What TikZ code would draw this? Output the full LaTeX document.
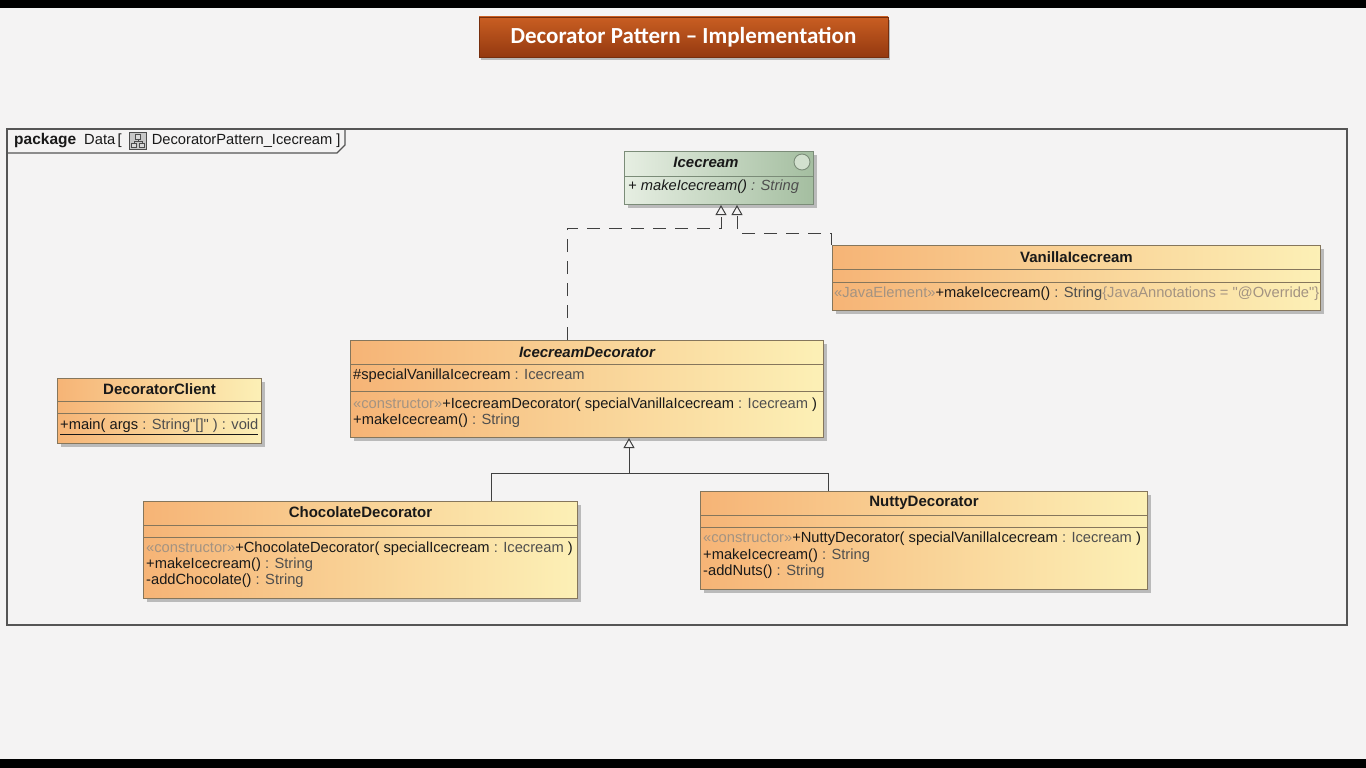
\documentclass[tikz,border=0pt]{standalone}
\usepackage{fontspec}
\setmainfont{Liberation Sans}[Ligatures=TeXOff]
\newfontfamily\titlefont{Carlito}
\usetikzlibrary{positioning,shadows,arrows.meta}

\definecolor{slidebg}{HTML}{F4F3F3}
\definecolor{boxL}{HTML}{F6B476}
\definecolor{boxR}{HTML}{FCF0B6}
\definecolor{boxline}{HTML}{85765C}
\definecolor{ifcL}{HTML}{E6EEE2}
\definecolor{ifcR}{HTML}{A4BEA0}
\definecolor{ifcline}{HTML}{7B8C78}
\definecolor{stereo}{HTML}{A39382}
\definecolor{typegray}{HTML}{4E4E4E}
\definecolor{titleT}{HTML}{C95E22}
\definecolor{titleB}{HTML}{943910}
\definecolor{frameline}{HTML}{555555}

\newcommand{\stereotxt}[1]{\textcolor{stereo}{«#1»}}
\newcommand{\typetxt}[1]{\textcolor{typegray}{#1}}
\newcommand{\umlsize}{\fontsize{14.7}{17}\selectfont}

\tikzset{
  classbox/.style={draw=boxline, line width=1pt, left color=boxL, right color=boxR,
    anchor=north west, inner sep=0pt,
    drop shadow={shadow xshift=3pt, shadow yshift=-3pt, fill=black!45, opacity=0.55}},
  sepline/.style={draw=boxline, line width=0.9pt},
  hdr/.style={font=\fontsize{15}{17}\selectfont\bfseries, text=black!90, inner sep=0pt},
  member/.style={font=\umlsize, text=black!90, anchor=west, inner sep=0pt,
    text height=10.7pt, text depth=3pt},
  realize/.style={draw=black!75, line width=1pt, dash pattern=on 13pt off 9pt,
    -{Triangle[open, length=10pt, width=11pt]}},
  inherit/.style={draw=black!75, line width=1pt, -{Triangle[open, length=10pt, width=11pt]}},
}

\begin{document}
\begin{tikzpicture}[x=1pt,y=-1pt]
  \useasboundingbox (0,0) rectangle (1366,768);
  \fill[slidebg] (0,0) rectangle (1366,768);
  \fill[black] (0,0) rectangle (1366,8);
  \fill[black] (0,759) rectangle (1366,768);

  % title
  \node[top color=titleT, bottom color=titleB, draw=titleB!80!black, minimum width=409pt, minimum height=40pt,
    drop shadow={shadow xshift=2pt, shadow yshift=-3pt, fill=black!50, opacity=0.5},
    text=white, font=\titlefont\fontsize{23}{27}\selectfont\bfseries] (title) at (683.5,37)
    {Decorator Pattern – Implementation};

  % package frame
  \draw[frameline, line width=1.2pt] (7,129) rectangle (1347,625);
  \draw[frameline, line width=1.2pt] (7,153) -- (337,153) -- (345,145) -- (345,129);
  \node[member] (pkgA) at (14,141) {{\fontsize{15.5}{17}\selectfont\bfseries package}\hspace{8pt}Data\,[};
  \node[draw=black!70, fill=black!22, line width=0.6pt, minimum size=17pt, inner sep=0pt, right=7pt of pkgA] (pkgicon) {};
  \draw[black!70, line width=0.6pt, fill=white!85!black]
    ([xshift=-2.5pt,yshift=6.5pt]pkgicon.center) rectangle ([xshift=2.5pt,yshift=2pt]pkgicon.center)
    ([xshift=-6.5pt,yshift=-2pt]pkgicon.center) rectangle ([xshift=-1.5pt,yshift=-6.5pt]pkgicon.center)
    ([xshift=1.5pt,yshift=-2pt]pkgicon.center) rectangle ([xshift=6.5pt,yshift=-6.5pt]pkgicon.center);
  \draw[black!70, line width=0.6pt] ([yshift=2pt]pkgicon.center) -- ([yshift=0pt]pkgicon.center)
    ([xshift=-4pt,yshift=-2pt]pkgicon.center) |- ([xshift=4pt,yshift=0pt]pkgicon.center) -- ([xshift=4pt,yshift=-2pt]pkgicon.center);
  \node[member, right=5pt of pkgicon] (pkgB) {DecoratorPattern\_Icecream ]};

  % Icecream interface
  \node[classbox, draw=ifcline, left color=ifcL, right color=ifcR, minimum width=189pt, minimum height=53pt] (ice) at (624,151) {};
  \node[hdr, font=\fontsize{15}{17}\selectfont\bfseries\itshape] (iceT) at ([xshift=-13pt,yshift=-11pt]ice.north) {Icecream};
  \draw[ifcline, fill=ifcL!70!ifcR, line width=0.9pt] ([xshift=-12pt,yshift=-11pt]ice.north east) circle (8pt);
  \draw[draw=ifcline, line width=0.9pt] ([yshift=-25pt]ice.north west) -- ([yshift=-25pt]ice.north east);
  \node[member, font=\umlsize\itshape] (iceOp) at ([xshift=4pt,yshift=-36pt]ice.north west)
    {+ makeIcecream() \typetxt{: String}};

  % VanillaIcecream
  \node[classbox, minimum width=488pt, minimum height=65pt] (van) at (832,245) {};
  \node[hdr] (vanT) at ([yshift=-12pt]van.north) {VanillaIcecream};
  \draw[sepline] ([yshift=-24pt]van.north west) -- ([yshift=-24pt]van.north east);
  \draw[sepline] ([yshift=-37pt]van.north west) -- ([yshift=-37pt]van.north east);
  \node[member] (vanOp) at ([xshift=2pt,yshift=-49pt]van.north west)
    {\stereotxt{JavaElement}+makeIcecream() \typetxt{: String}\textcolor{stereo}{\{JavaAnnotations = "@Override"\}}};

  % IcecreamDecorator
  \node[classbox, minimum width=473pt, minimum height=97pt] (dec) at (350,340) {};
  \node[hdr, font=\fontsize{15}{17}\selectfont\bfseries\itshape] (decT) at ([yshift=-12pt]dec.north) {IcecreamDecorator};
  \draw[sepline] ([yshift=-24pt]dec.north west) -- ([yshift=-24pt]dec.north east);
  \node[member] (decA) at ([xshift=3pt,yshift=-36pt]dec.north west) {\#specialVanillaIcecream \typetxt{: Icecream}};
  \draw[sepline] ([yshift=-51pt]dec.north west) -- ([yshift=-51pt]dec.north east);
  \node[member] (decOpA) at ([xshift=3pt,yshift=-65pt]dec.north west)
    {\stereotxt{constructor}+IcecreamDecorator( specialVanillaIcecream \typetxt{: Icecream} )};
  \node[member] (decOpB) at ([xshift=3pt,yshift=-81pt]dec.north west) {+makeIcecream() \typetxt{: String}};

  % DecoratorClient
  \node[classbox, minimum width=204pt, minimum height=65pt] (cli) at (57,378) {};
  \node[hdr] (cliT) at ([yshift=-11pt]cli.north) {DecoratorClient};
  \draw[sepline] ([yshift=-23pt]cli.north west) -- ([yshift=-23pt]cli.north east);
  \draw[sepline] ([yshift=-35pt]cli.north west) -- ([yshift=-35pt]cli.north east);
  \node[member] (cliOp) at ([xshift=3pt,yshift=-48pt]cli.north west)
    {\underline{+main( args \typetxt{: String"[]" ) : void}}};

  % ChocolateDecorator
  \node[classbox, minimum width=434pt, minimum height=97pt] (cho) at (143,501) {};
  \node[hdr] (choT) at ([yshift=-11pt]cho.north) {ChocolateDecorator};
  \draw[sepline] ([yshift=-24pt]cho.north west) -- ([yshift=-24pt]cho.north east);
  \draw[sepline] ([yshift=-36pt]cho.north west) -- ([yshift=-36pt]cho.north east);
  \node[member] (choOpA) at ([xshift=3pt,yshift=-48pt]cho.north west)
    {\stereotxt{constructor}+ChocolateDecorator( specialIcecream \typetxt{: Icecream} )};
  \node[member] (choOpB) at ([xshift=3pt,yshift=-64pt]cho.north west) {+makeIcecream() \typetxt{: String}};
  \node[member] (choOpC) at ([xshift=3pt,yshift=-80pt]cho.north west) {-addChocolate() \typetxt{: String}};

  % NuttyDecorator
  \node[classbox, minimum width=447pt, minimum height=98pt] (nut) at (700,491) {};
  \node[hdr] (nutT) at ([yshift=-12pt]nut.north) {NuttyDecorator};
  \draw[sepline] ([yshift=-24pt]nut.north west) -- ([yshift=-24pt]nut.north east);
  \draw[sepline] ([yshift=-36pt]nut.north west) -- ([yshift=-36pt]nut.north east);
  \node[member] (nutOpA) at ([xshift=3pt,yshift=-48pt]nut.north west)
    {\stereotxt{constructor}+NuttyDecorator( specialVanillaIcecream \typetxt{: Icecream} )};
  \node[member] (nutOpB) at ([xshift=3pt,yshift=-65pt]nut.north west) {+makeIcecream() \typetxt{: String}};
  \node[member] (nutOpC) at ([xshift=3pt,yshift=-81pt]nut.north west) {-addNuts() \typetxt{: String}};

  % realizations
  \draw[realize] ([xshift=217pt]dec.north west) |- ([xshift=97pt,yshift=-23pt]ice.south west) -- ([xshift=97pt]ice.south west);
  \draw[realize] ([xshift=-1pt]van.north west) |- ([xshift=113pt,yshift=-28pt]ice.south west) -- ([xshift=113pt]ice.south west);

  % generalizations
  \draw[inherit] ([xshift=348pt]cho.north west) |- ([xshift=279pt,yshift=-35pt]dec.south west) -- ([xshift=279pt]dec.south west);
  \draw[draw=black!75, line width=1pt] ([xshift=128pt]nut.north west) |- ([xshift=279pt,yshift=-35pt]dec.south west);
\end{tikzpicture}
\end{document}
